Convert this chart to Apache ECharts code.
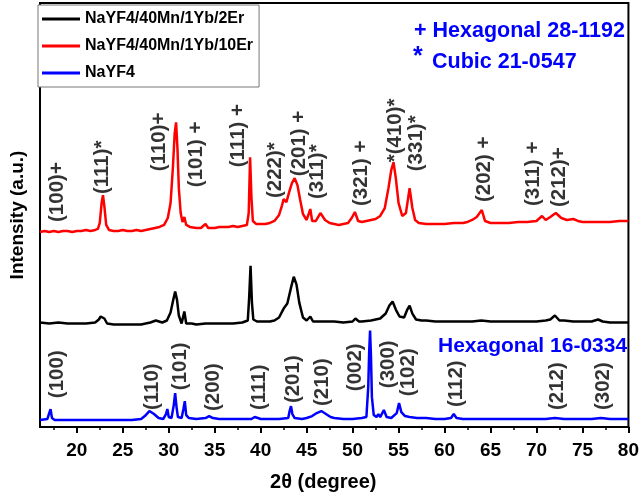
<!DOCTYPE html>
<html>
<head>
<meta charset="utf-8">
<script src="https://cdn.jsdelivr.net/npm/echarts@6/dist/echarts.min.js"></script>
<style>
  html, body { margin: 0; padding: 0; background: #fff; }
  #chart { width: 642px; height: 497px; }
</style>
</head>
<body>
<div id="chart"></div>
<script>
// 2theta (deg), intensity (a.u., offset stacked)
const red10Er = [
  [16, 196], [16.5, 197], [17, 196], [17.5, 197], [18, 196], [18.5, 197], [19, 197], [19.5, 196],
  [20, 197], [20.5, 197], [21, 198], [21.5, 197], [22, 198], [22.3, 199], [22.5, 205], [22.7, 225],
  [22.85, 233], [23, 222], [23.2, 203], [23.5, 198], [24, 197], [24.5, 197], [25, 198], [25.5, 197],
  [26, 197], [26.5, 198], [27, 197], [27.5, 198], [28, 199], [28.5, 200], [29, 201], [29.5, 203],
  [29.9, 210], [30.2, 225], [30.45, 260], [30.65, 295], [30.8, 306], [30.95, 280], [31.1, 240],
  [31.3, 215], [31.5, 206], [31.7, 211], [31.9, 203], [32.3, 201], [33, 200], [33.5, 200], [34, 204],
  [34.3, 200], [35, 200], [35.5, 201], [36, 201], [36.5, 201], [37, 202], [37.5, 201], [38, 202],
  [38.5, 203], [38.7, 215], [38.85, 271], [39, 230], [39.15, 207], [39.5, 204], [40, 204], [40.5, 204],
  [41, 205], [41.5, 207], [42, 213], [42.3, 222], [42.5, 229], [42.8, 226], [43.1, 236], [43.4, 245],
  [43.7, 250], [44, 243], [44.3, 228], [44.6, 214], [45, 208], [45.2, 210], [45.4, 219], [45.6, 207],
  [46, 207], [46.5, 215], [47, 208], [47.5, 205], [48, 204], [48.5, 203], [49, 204], [49.5, 205],
  [49.9, 210], [50.25, 216], [50.6, 207], [51, 206], [51.5, 207], [52, 208], [52.5, 209], [53, 212],
  [53.5, 220], [53.9, 240], [54.2, 258], [54.45, 266], [54.7, 250], [55, 225], [55.4, 212], [55.8, 215],
  [56.2, 240], [56.5, 220], [56.8, 208], [57.2, 205], [58, 204], [59, 204], [60, 204], [61, 205],
  [62, 205], [62.5, 206], [63, 208], [63.5, 211], [64.05, 218], [64.4, 207], [65, 205], [66, 205],
  [67, 205], [68, 206], [69, 206], [70, 207], [70.6, 212], [71, 208], [71.5, 211], [72.1, 215],
  [72.7, 210], [73.3, 208], [74, 209], [74.5, 207], [75, 206], [76, 206], [77, 206], [78, 206],
  [79, 207], [80, 207]
];

const black2Er = [
  [16, 105], [17, 104], [18, 105], [19, 104], [20, 104], [21, 104], [22, 105], [22.4, 108],
  [22.6, 111], [22.8, 113], [23, 109], [23.3, 104], [24, 103], [25, 103], [26, 103], [27, 103],
  [28, 105], [28.6, 107], [29.3, 105], [29.8, 107], [30.2, 115], [30.5, 128], [30.7, 136], [30.9, 128],
  [31.1, 112], [31.4, 104], [31.7, 116], [31.9, 104], [32.5, 104], [33, 103], [34, 104], [35, 104],
  [36, 104], [37, 104], [38, 105], [38.6, 107], [38.75, 130], [38.9, 162], [39.05, 125], [39.2, 108],
  [39.6, 106], [40, 106], [41, 106], [41.5, 107], [42, 110], [42.5, 119], [42.9, 124], [43.3, 140],
  [43.6, 151], [43.9, 143], [44.2, 125], [44.6, 110], [45, 107], [45.4, 111], [45.7, 106], [46, 106],
  [47, 106], [48, 106], [49, 105], [50, 106], [50.3, 109], [50.7, 106], [51, 106], [52, 107],
  [53, 109], [53.6, 114], [54, 122], [54.35, 126], [54.7, 118], [55.1, 111], [55.6, 110], [55.95, 118],
  [56.2, 122], [56.5, 114], [56.9, 108], [57.5, 107], [58, 107], [59, 106], [60, 106], [61, 106],
  [62, 106], [63, 106], [64, 107], [65, 106], [66, 106], [67, 106], [68, 106], [69, 106],
  [70, 106], [71, 107], [71.5, 108], [72, 112], [72.5, 107], [73, 107], [74, 106], [75, 106],
  [76, 106], [76.7, 108], [77.2, 106], [78, 105], [79, 105], [80, 105]
];

const blueNaYF4 = [
  [16, 7], [16.8, 8], [17, 14], [17.15, 18], [17.3, 9], [17.6, 7], [18, 7], [19, 7],
  [20, 7], [21, 7], [22, 7], [23, 7], [24, 7], [25, 7], [26, 7], [27, 8],
  [27.4, 11], [27.9, 16], [28.4, 13], [28.9, 9], [29.4, 8], [29.7, 13], [29.85, 18], [30, 10],
  [30.3, 9], [30.55, 22], [30.7, 34], [30.85, 20], [31, 10], [31.4, 9], [31.6, 18], [31.75, 26],
  [31.9, 12], [32.2, 9], [33, 8], [34, 9], [34.4, 11], [34.8, 9], [35.5, 8], [36, 8],
  [37, 8], [38, 8], [39, 8], [39.35, 10], [39.5, 12], [39.7, 9], [40, 8], [41, 8],
  [42, 8], [43, 9], [43.15, 16], [43.3, 21], [43.45, 13], [43.7, 9], [44.5, 8], [45, 9],
  [45.6, 11], [46.1, 14], [46.6, 16], [47.1, 13], [47.6, 10], [48, 9], [49, 8], [50, 8],
  [51, 9], [51.5, 10], [51.7, 40], [51.8, 75], [51.9, 97], [52, 70], [52.1, 30], [52.3, 12],
  [52.6, 10], [52.8, 13], [53, 10], [53.4, 17], [53.7, 10], [54.2, 9], [54.8, 14], [55.05, 24],
  [55.3, 15], [55.7, 11], [56.2, 10], [57, 9], [58, 9], [59, 8], [60, 8], [60.7, 9],
  [61, 13], [61.3, 9], [62, 8], [63, 8], [64, 8], [65, 8], [66, 8], [67, 8],
  [68, 8], [69, 8], [70, 8], [71, 8], [72, 9], [73, 8], [74, 8], [75, 8],
  [76, 8], [77, 9], [78, 8], [79, 8], [80, 8]
];

const seriesNames = ['NaYF4/40Mn/1Yb/2Er', 'NaYF4/40Mn/1Yb/10Er', 'NaYF4'];
const xTicks = [20, 25, 30, 35, 40, 45, 50, 55, 60, 65, 70, 75, 80];
const xMinorTicks = [17.5, 22.5, 27.5, 32.5, 37.5, 42.5, 47.5, 52.5, 57.5, 62.5, 67.5, 72.5, 77.5];

// peak indexing labels: text, 2theta, base of label
const redPeakText = ['(100)+', '(111)*', '(110)+', '(101) +', '(111) +', '(222)*', '(201) +',
  '(311)*', '(321) +', '*(410)*', '(331)*', '(202) +', '(311) +', '(212)+'];
const redPeakAt = [17.9, 22.8, 29.0, 33.0, 37.6, 41.55, 44.2, 46.2, 50.9, 54.6, 56.96, 64.3, 69.7, 72.5];
const redPeakBase = [206, 234, 257, 241, 261, 230, 252, 229, 222, 266, 257, 226, 222, 221];

const bluePeakText = ['(100)', '(110)', '(101)', '(200)', '(111)', '(201)', '(210)',
  '(002)', '(300)', '(102)', '(112)', '(212)', '(302)'];
const bluePeakAt = [17.9, 28.2, 31.26, 34.8, 39.86, 43.6, 46.7, 50.25, 53.9, 56.05, 61.25, 72.3, 77.3];
const bluePeakBase = [29, 17, 37, 16, 17, 24, 21, 36, 39, 31, 20, 17, 17];

const FONT = 'Liberation Sans, Arial, sans-serif';

function peakLabels(texts, at, base) {
  return at.map((x, i) => ({
    value: [x, base[i]],
    label: { formatter: texts[i] }
  }));
}

const labelSeriesDefault = {
  type: 'scatter',
  symbolSize: 0,
  silent: true,
  z: 5,
  label: {
    show: true,
    position: 'inside',
    rotate: 90,
    align: 'left',
    verticalAlign: 'middle',
    color: '#000',
    fontFamily: FONT,
    fontWeight: 'bold',
    fontSize: 20.5
  }
};

const chart = echarts.init(document.getElementById('chart'), null, { renderer: 'canvas' });

chart.setOption({
  animation: false,
  backgroundColor: '#fff',
  grid: {
    left: 35, right: 11, top: 3, bottom: 68,
    show: true, borderColor: '#000', borderWidth: 2
  },
  legend: {
    data: seriesNames,
    orient: 'vertical',
    left: 38,
    top: 5,
    padding: [4, 6, 4, 4],
    itemGap: 7,
    itemWidth: 38,
    itemHeight: 3,
    icon: 'rect',
    backgroundColor: '#fff',
    borderColor: '#777',
    borderWidth: 1,
    textStyle: { fontFamily: FONT, fontWeight: 'bold', fontSize: 16, color: '#000', lineHeight: 20 }
  },
  xAxis: [{
    type: 'value',
    min: 16,
    max: 80,
    name: '2θ (degree)',
    nameLocation: 'middle',
    nameGap: 45,
    nameTextStyle: { fontFamily: FONT, fontWeight: 'bold', fontSize: 20, color: '#000', padding: [0, 22, 0, 0] },
    axisLine: { onZero: false, lineStyle: { color: '#000', width: 2 } },
    axisTick: { customValues: xTicks, length: 6, lineStyle: { color: '#000', width: 2 } },
    axisLabel: { customValues: xTicks, margin: 14, fontFamily: FONT, fontWeight: 'bold', fontSize: 19, color: '#000' },
    splitLine: { show: false }
  }, {
    type: 'value',
    min: 16,
    max: 80,
    position: 'bottom',
    axisLine: { show: false },
    axisTick: { customValues: xMinorTicks, length: 3, lineStyle: { color: '#000', width: 1.5 } },
    axisLabel: { show: false },
    splitLine: { show: false }
  }],
  yAxis: {
    type: 'value',
    min: 0,
    max: 426,
    name: 'Intensity (a.u.)',
    nameLocation: 'middle',
    nameGap: 13,
    nameTextStyle: { fontFamily: FONT, fontWeight: 'bold', fontSize: 19, color: '#000' },
    axisLine: { show: true, lineStyle: { color: '#000', width: 2 } },
    axisTick: { show: false },
    axisLabel: { show: false },
    splitLine: { show: false }
  },
  graphic: [
    { type: 'text', left: 414, top: 20, style: { text: '+ Hexagonal 28-1192', fill: '#0000ff', font: 'bold 21.5px ' + FONT } },
    { type: 'text', left: 413, top: 45, style: { text: '*', fill: '#0000ff', font: 'bold 25px ' + FONT } },
    { type: 'text', left: 432, top: 51, style: { text: 'Cubic 21-0547', fill: '#0000ff', font: 'bold 21.5px ' + FONT } },
    { type: 'text', left: 438, top: 336, style: { text: 'Hexagonal 16-0334', fill: '#0000ff', font: 'bold 21px ' + FONT } }
  ],
  series: [
    { name: seriesNames[0], type: 'line', data: black2Er, showSymbol: false, color: '#000', lineStyle: { width: 2.5 } },
    { name: seriesNames[1], type: 'line', data: red10Er, showSymbol: false, color: '#ff0000', lineStyle: { width: 2.5 } },
    { name: seriesNames[2], type: 'line', data: blueNaYF4, showSymbol: false, color: '#0000ff', lineStyle: { width: 2.5 } },
    { ...labelSeriesDefault, name: 'hklRed', data: peakLabels(redPeakText, redPeakAt, redPeakBase) },
    { ...labelSeriesDefault, name: 'hklBlue', data: peakLabels(bluePeakText, bluePeakAt, bluePeakBase) }
  ]
});
</script>
</body>
</html>
